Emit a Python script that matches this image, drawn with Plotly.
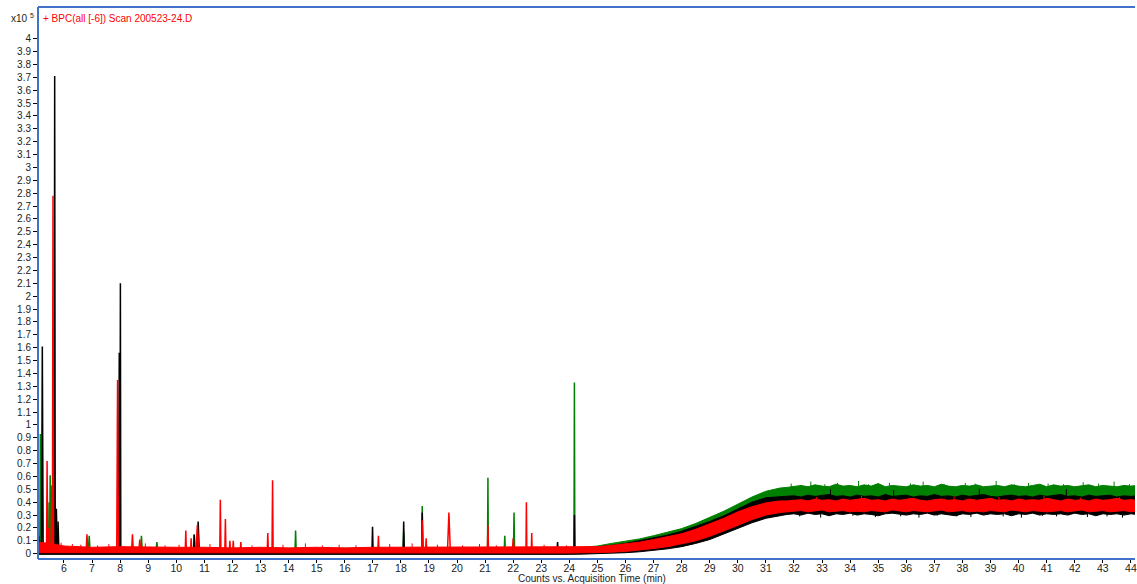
import plotly.graph_objects as go

# Sampling times (min) for the noise-band envelopes
band_time = [5.08, 5.5, 6.0, 7.0, 8.0, 9.0, 10.0, 11.0, 12.0, 13.0,
             14.0, 15.0, 16.0, 17.0, 18.0, 19.0, 20.0, 21.0, 22.0, 23.0,
             24.0, 24.5, 25.0, 25.5, 26.0, 26.5, 27.0, 27.5, 28.0, 28.5,
             29.0, 29.5, 30.0, 30.5, 31.0, 31.5,
             31.75, 32.0, 32.25, 32.5, 32.75, 33.0, 33.25, 33.5, 33.75, 34.0,
             34.25, 34.5, 34.75, 35.0, 35.25, 35.5, 35.75, 36.0, 36.25, 36.5,
             36.75, 37.0, 37.25, 37.5, 37.75, 38.0, 38.25, 38.5, 38.75, 39.0,
             39.25, 39.5, 39.75, 40.0, 40.25, 40.5, 40.75, 41.0, 41.25, 41.5,
             41.75, 42.0, 42.25, 42.5, 42.75, 43.0, 43.25, 43.5, 43.75, 44.0,
             44.2]

# Envelopes (counts x10^5): lower / upper edge of each trace's noise band
green_lo = [0.0, 0.0, 0.0, 0.0, 0.0, 0.0, 0.0, 0.0, 0.0, 0.0,
            0.0, 0.0, 0.0, 0.0, 0.0, 0.0, 0.0, 0.0, 0.0, 0.0,
            0.0, 0.0, 0.01, 0.025, 0.04, 0.06, 0.08, 0.105, 0.135, 0.17,
            0.21, 0.255, 0.31, 0.36, 0.395, 0.41,
            0.415, 0.42, 0.425, 0.42, 0.415, 0.42, 0.425, 0.42, 0.415, 0.42,
            0.42, 0.425, 0.415, 0.42, 0.42, 0.425, 0.415, 0.42, 0.42, 0.415,
            0.425, 0.42, 0.42, 0.415, 0.42, 0.425, 0.42, 0.415, 0.42, 0.42,
            0.425, 0.42, 0.415, 0.42, 0.42, 0.425, 0.415, 0.42, 0.42, 0.425,
            0.42, 0.415, 0.42, 0.425, 0.42, 0.42, 0.415, 0.42, 0.425, 0.42,
            0.42]
green_hi = [0.04, 0.04, 0.04, 0.04, 0.04, 0.04, 0.04, 0.04, 0.04, 0.04,
            0.04, 0.04, 0.04, 0.04, 0.04, 0.04, 0.04, 0.04, 0.04, 0.04,
            0.045, 0.05, 0.06, 0.08, 0.095, 0.115, 0.14, 0.165, 0.195, 0.235,
            0.28, 0.33, 0.385, 0.44, 0.485, 0.51,
            0.515, 0.52, 0.53, 0.52, 0.535, 0.525, 0.52, 0.54, 0.525, 0.53,
            0.52, 0.535, 0.525, 0.545, 0.52, 0.53, 0.525, 0.52, 0.535, 0.525,
            0.53, 0.52, 0.54, 0.525, 0.52, 0.53, 0.525, 0.535, 0.52, 0.525,
            0.53, 0.52, 0.535, 0.525, 0.52, 0.53, 0.54, 0.52, 0.535, 0.525,
            0.53, 0.52, 0.525, 0.535, 0.52, 0.53, 0.525, 0.52, 0.53, 0.525,
            0.53]
black_lo = [-0.005, -0.005, -0.005, -0.005, -0.005, -0.005, -0.005, -0.005, -0.005, -0.005,
            -0.005, -0.005, -0.005, -0.005, -0.005, -0.005, -0.005, -0.005, -0.005, -0.005,
            -0.005, -0.003, 0.0, 0.003, 0.008, 0.015, 0.025, 0.038, 0.055, 0.08,
            0.11, 0.15, 0.195, 0.24, 0.275, 0.295,
            0.305, 0.31, 0.3, 0.315, 0.305, 0.31, 0.295, 0.31, 0.305, 0.315,
            0.3, 0.31, 0.305, 0.295, 0.31, 0.315, 0.305, 0.3, 0.31, 0.305,
            0.315, 0.3, 0.31, 0.305, 0.295, 0.31, 0.305, 0.315, 0.3, 0.31,
            0.305, 0.31, 0.295, 0.31, 0.305, 0.315, 0.3, 0.31, 0.305, 0.31,
            0.3, 0.315, 0.305, 0.31, 0.295, 0.31, 0.305, 0.31, 0.3, 0.31,
            0.305]
black_hi = [0.035, 0.03, 0.03, 0.03, 0.03, 0.03, 0.03, 0.03, 0.03, 0.03,
            0.03, 0.03, 0.03, 0.03, 0.03, 0.03, 0.03, 0.03, 0.03, 0.03,
            0.035, 0.04, 0.05, 0.065, 0.08, 0.1, 0.12, 0.145, 0.175, 0.21,
            0.25, 0.295, 0.35, 0.4, 0.435, 0.445,
            0.445, 0.45, 0.44, 0.455, 0.445, 0.45, 0.46, 0.445, 0.45, 0.44,
            0.455, 0.445, 0.45, 0.44, 0.46, 0.445, 0.45, 0.455, 0.44, 0.45,
            0.445, 0.46, 0.445, 0.45, 0.44, 0.455, 0.445, 0.45, 0.46, 0.445,
            0.44, 0.45, 0.455, 0.445, 0.45, 0.44, 0.455, 0.445, 0.45, 0.46,
            0.445, 0.45, 0.44, 0.455, 0.445, 0.45, 0.455, 0.44, 0.45, 0.445,
            0.45]
red_lo = [0.008, 0.006, 0.005, 0.005, 0.005, 0.005, 0.005, 0.005, 0.005, 0.005,
          0.005, 0.005, 0.005, 0.005, 0.005, 0.005, 0.005, 0.005, 0.005, 0.005,
          0.005, 0.006, 0.008, 0.012, 0.018, 0.027, 0.04, 0.055, 0.075, 0.1,
          0.135, 0.175, 0.22, 0.265, 0.3, 0.32,
          0.325, 0.33, 0.335, 0.325, 0.33, 0.34, 0.325, 0.33, 0.335, 0.325,
          0.33, 0.325, 0.335, 0.33, 0.325, 0.34, 0.33, 0.325, 0.335, 0.33,
          0.325, 0.33, 0.34, 0.325, 0.33, 0.335, 0.325, 0.33, 0.325, 0.335,
          0.33, 0.325, 0.34, 0.33, 0.325, 0.335, 0.33, 0.325, 0.33, 0.335,
          0.325, 0.33, 0.34, 0.325, 0.33, 0.335, 0.325, 0.33, 0.335, 0.325,
          0.33]
red_hi = [0.09, 0.08, 0.06, 0.05, 0.055, 0.05, 0.05, 0.05, 0.045, 0.05,
          0.045, 0.05, 0.045, 0.05, 0.05, 0.05, 0.055, 0.05, 0.05, 0.05,
          0.05, 0.05, 0.055, 0.065, 0.075, 0.09, 0.11, 0.13, 0.155, 0.19,
          0.23, 0.275, 0.325, 0.365, 0.395, 0.41,
          0.41, 0.415, 0.42, 0.41, 0.425, 0.415, 0.42, 0.41, 0.425, 0.415,
          0.42, 0.43, 0.415, 0.42, 0.41, 0.425, 0.415, 0.42, 0.43, 0.415,
          0.41, 0.42, 0.425, 0.415, 0.42, 0.41, 0.425, 0.415, 0.42, 0.43,
          0.415, 0.42, 0.41, 0.425, 0.415, 0.42, 0.415, 0.43, 0.42, 0.41,
          0.425, 0.415, 0.42, 0.41, 0.425, 0.415, 0.42, 0.43, 0.415, 0.42,
          0.415]

# Peaks: apex time (min), apex height (counts x10^5), half-width at base (min)
green_peak_t = [5.16, 5.47, 5.51, 6.90, 8.76, 9.31, 10.64, 14.25, 18.10, 18.76, 21.10, 21.70, 22.03, 24.18]
green_peak_h = [0.93, 0.40, 0.61, 0.14, 0.14, 0.09, 0.15, 0.18, 0.17, 0.37, 0.59, 0.14, 0.32, 1.33]
green_peak_w = [0.02, 0.02, 0.02, 0.03, 0.03, 0.03, 0.02, 0.02, 0.02, 0.02, 0.015, 0.02, 0.02, 0.015]

black_peak_t = [5.10, 5.23, 5.67, 5.73, 5.79, 7.97, 8.01, 10.64, 10.78, 16.99, 18.10, 18.76, 23.58, 24.18]
black_peak_h = [0.14, 1.61, 3.71, 0.35, 0.25, 1.56, 2.10, 0.15, 0.25, 0.21, 0.25, 0.32, 0.09, 0.30]
black_peak_w = [0.02, 0.03, 0.02, 0.03, 0.03, 0.03, 0.015, 0.02, 0.04, 0.02, 0.02, 0.02, 0.02, 0.015]

red_peak_t = [5.40, 5.44, 5.57, 5.61, 6.82, 7.91, 8.44, 8.70, 10.34, 10.53, 10.75, 11.57, 11.75,
              11.91, 12.03, 12.30, 13.26, 13.43, 17.20, 18.76, 18.90, 19.71, 21.10, 22.00,
              22.47, 22.66]
red_peak_h = [0.72, 0.20, 0.53, 2.78, 0.15, 1.35, 0.15, 0.11, 0.18, 0.12, 0.22, 0.42, 0.27,
              0.10, 0.10, 0.09, 0.16, 0.57, 0.14, 0.26, 0.12, 0.32, 0.22, 0.12,
              0.40, 0.16]
red_peak_w = [0.02, 0.02, 0.03, 0.02, 0.03, 0.03, 0.03, 0.03, 0.02, 0.02, 0.05, 0.02, 0.02,
              0.02, 0.02, 0.02, 0.02, 0.02, 0.02, 0.02, 0.02, 0.05, 0.02, 0.03,
              0.015, 0.015]

peak_base = 0.02

# Noise flickers on the band edges: time, low end, high end
green_noise_t = [31.9, 32.6, 33.1, 33.55, 34.3, 34.65, 35.4, 36.15, 36.6, 37.35,
                 38.1, 38.45, 39.2, 39.85, 40.35, 41.05, 41.6, 42.3, 42.85, 43.4, 43.95]
green_noise_lo = [0.51, 0.51, 0.51, 0.51, 0.51, 0.51, 0.51, 0.51, 0.51, 0.51,
                  0.51, 0.51, 0.51, 0.51, 0.51, 0.51, 0.51, 0.51, 0.51, 0.51, 0.51]
green_noise_hi = [0.545, 0.56, 0.54, 0.55, 0.565, 0.54, 0.55, 0.545, 0.56, 0.54,
                  0.55, 0.545, 0.565, 0.54, 0.55, 0.545, 0.54, 0.555, 0.545, 0.56, 0.54]

black_noise_t = [32.2, 32.95, 33.3, 34.1, 34.9, 35.55, 35.8, 36.45, 37.1, 37.8,
                 38.3, 38.6, 39.45, 40.1, 40.85, 41.35, 41.7, 42.45, 43.15, 43.7]
black_noise_lo = [0.29, 0.28, 0.44, 0.295, 0.285, 0.44, 0.29, 0.28, 0.295, 0.29,
                  0.285, 0.44, 0.29, 0.28, 0.295, 0.29, 0.44, 0.285, 0.29, 0.28]
black_noise_hi = [0.315, 0.315, 0.50, 0.315, 0.315, 0.495, 0.315, 0.315, 0.315, 0.315,
                  0.315, 0.505, 0.315, 0.315, 0.315, 0.315, 0.50, 0.315, 0.315, 0.315]

red_noise_t = [5.9, 6.3, 6.6, 7.2, 7.6, 8.9, 9.6, 10.1, 11.2, 12.7, 13.8, 14.6, 15.2, 15.8,
               16.4, 17.6, 18.4, 19.3, 20.2, 20.8, 21.4, 23.1, 23.9,
               32.8, 34.4, 36.1, 37.7, 39.3, 40.9, 42.2, 43.6]
red_noise_lo = [0.03, 0.03, 0.03, 0.03, 0.03, 0.03, 0.03, 0.03, 0.03, 0.03, 0.03, 0.03, 0.03, 0.03,
                0.03, 0.03, 0.03, 0.03, 0.03, 0.03, 0.03, 0.03, 0.03,
                0.40, 0.40, 0.40, 0.40, 0.40, 0.40, 0.40, 0.40]
red_noise_hi = [0.085, 0.075, 0.07, 0.065, 0.075, 0.08, 0.065, 0.07, 0.075, 0.065, 0.07, 0.08, 0.065, 0.07,
                0.065, 0.075, 0.08, 0.07, 0.065, 0.075, 0.065, 0.07, 0.065,
                0.44, 0.45, 0.435, 0.445, 0.44, 0.45, 0.435, 0.44]

# Axis ticks
y_tick_vals = [0, 0.1, 0.2, 0.3, 0.4, 0.5, 0.6, 0.7, 0.8, 0.9, 1, 1.1, 1.2, 1.3, 1.4, 1.5,
               1.6, 1.7, 1.8, 1.9, 2, 2.1, 2.2, 2.3, 2.4, 2.5, 2.6, 2.7, 2.8, 2.9, 3, 3.1,
               3.2, 3.3, 3.4, 3.5, 3.6, 3.7, 3.8, 3.9, 4]
y_tick_text = ["0", "0.1", "0.2", "0.3", "0.4", "0.5", "0.6", "0.7", "0.8", "0.9", "1",
               "1.1", "1.2", "1.3", "1.4", "1.5", "1.6", "1.7", "1.8", "1.9", "2", "2.1",
               "2.2", "2.3", "2.4", "2.5", "2.6", "2.7", "2.8", "2.9", "3", "3.1", "3.2",
               "3.3", "3.4", "3.5", "3.6", "3.7", "3.8", "3.9", "4"]

GREEN = "#008000"
BLACK = "#000000"
RED = "#ff0000"
FRAME = "#3f72c8"
FONT = "Liberation Sans, Arial, sans-serif"
TEXT = "#222222"


def band_trace(t, lo, hi, color):
    return go.Scatter(
        x=list(t) + list(t)[::-1],
        y=list(hi) + list(lo)[::-1],
        mode="lines", fill="toself", fillcolor=color,
        line=dict(color=color, width=1), hoverinfo="skip",
    )


def peak_trace(ts, hs, ws, color):
    xs, ys = [], []
    for t, h, w in zip(ts, hs, ws):
        xs += [t - w, t, t + w, None]
        ys += [peak_base, h, peak_base, None]
    return go.Scatter(x=xs, y=ys, mode="lines",
                      line=dict(color=color, width=1.5), hoverinfo="skip")


def noise_trace(ts, los, his, color):
    xs, ys = [], []
    for t, lo, hi in zip(ts, los, his):
        xs += [t, t, None]
        ys += [lo, hi, None]
    return go.Scatter(x=xs, y=ys, mode="lines",
                      line=dict(color=color, width=1), hoverinfo="skip")


fig = go.Figure()
fig.add_trace(band_trace(band_time, green_lo, green_hi, GREEN))
fig.add_trace(peak_trace(green_peak_t, green_peak_h, green_peak_w, GREEN))
fig.add_trace(noise_trace(green_noise_t, green_noise_lo, green_noise_hi, GREEN))
fig.add_trace(band_trace(band_time, black_lo, black_hi, BLACK))
fig.add_trace(peak_trace(black_peak_t, black_peak_h, black_peak_w, BLACK))
fig.add_trace(noise_trace(black_noise_t, black_noise_lo, black_noise_hi, BLACK))
fig.add_trace(band_trace(band_time, red_lo, red_hi, RED))
fig.add_trace(peak_trace(red_peak_t, red_peak_h, red_peak_w, RED))
fig.add_trace(noise_trace(red_noise_t, red_noise_lo, red_noise_hi, RED))

fig.update_layout(
    width=1137, height=584,
    margin=dict(l=38, r=0, t=7, b=25),
    plot_bgcolor="white", paper_bgcolor="white",
    showlegend=False,
    font=dict(family=FONT, color=TEXT),
    xaxis=dict(range=[5.076, 44.145], tick0=0, dtick=1, ticks="outside", ticklen=3,
               tickcolor="black", showgrid=False, zeroline=False, showline=False,
               ticklabeloverflow="allow", ticklabelstandoff=-4,
               tickfont=dict(family=FONT, size=10.5, color=TEXT)),
    yaxis=dict(range=[-0.041, 4.246], tickmode="array", tickvals=y_tick_vals,
               ticktext=y_tick_text, ticks="outside", ticklen=4,
               tickcolor="black", showgrid=False, zeroline=False, showline=False,
               tickfont=dict(family=FONT, size=10, color=TEXT)),
    shapes=[
        dict(type="line", xref="paper", yref="paper", x0=0, x1=0, y0=0, y1=1,
             line=dict(color=FRAME, width=2)),
        dict(type="line", xref="paper", yref="paper", x0=0, x1=1, y0=1, y1=1,
             line=dict(color=FRAME, width=2)),
        dict(type="line", xref="paper", yref="paper", x0=0, x1=1, y0=0, y1=0,
             line=dict(color=FRAME, width=2)),
    ],
    annotations=[
        dict(text="x10 <sup>5</sup>", xref="paper", yref="paper", x=-0.002, y=0.98,
             xanchor="right", yanchor="middle", showarrow=False,
             font=dict(family=FONT, size=10, color=TEXT)),
        dict(text="+ BPC(all [-6]) Scan 200523-24.D", xref="paper", yref="paper",
             x=0.003, y=0.98, xanchor="left", yanchor="middle", showarrow=False,
             font=dict(family=FONT, size=10, color=RED)),
        dict(text="Counts vs. Acquisition Time (min)", xref="paper", yref="paper",
             x=0.505, y=-0.0362, xanchor="center", yanchor="middle", showarrow=False,
             font=dict(family=FONT, size=10, color=TEXT)),
    ],
)

fig.write_html("out.html", config={"displayModeBar": False})
